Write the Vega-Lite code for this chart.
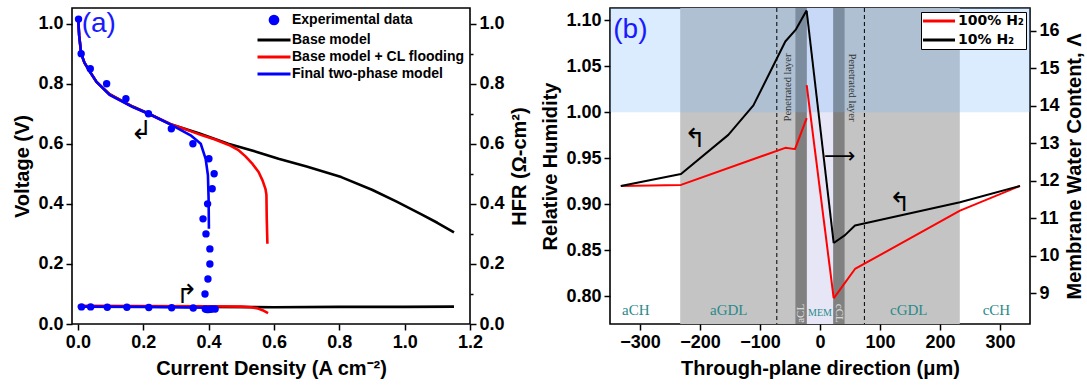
{
"$schema":"https://vega.github.io/schema/vega-lite/v6.json",
"padding":{"left":12,"top":6,"right":0,"bottom":0},
"background":"white",
"bounds":"flush",
"spacing":140,
"datasets":{
"vcurve":[
{"series":"Base model","j":0.001,"v":1.015},{"series":"Base model","j":0.004,"v":0.96},{"series":"Base model","j":0.01,"v":0.9},{"series":"Base model","j":0.02,"v":0.87},{"series":"Base model","j":0.031,"v":0.85},{"series":"Base model","j":0.057,"v":0.806},{"series":"Base model","j":0.097,"v":0.765},{"series":"Base model","j":0.168,"v":0.724},{"series":"Base model","j":0.216,"v":0.701},{"series":"Base model","j":0.286,"v":0.664},{"series":"Base model","j":0.37,"v":0.635},{"series":"Base model","j":0.46,"v":0.6},{"series":"Base model","j":0.55,"v":0.572},{"series":"Base model","j":0.614,"v":0.55},{"series":"Base model","j":0.7,"v":0.524},{"series":"Base model","j":0.806,"v":0.489},{"series":"Base model","j":0.9,"v":0.447},{"series":"Base model","j":0.974,"v":0.408},{"series":"Base model","j":1.05,"v":0.366},{"series":"Base model","j":1.1,"v":0.337},{"series":"Base model","j":1.151,"v":0.305},
{"series":"Base model + CL flooding","j":0.001,"v":1.015},{"series":"Base model + CL flooding","j":0.004,"v":0.96},{"series":"Base model + CL flooding","j":0.01,"v":0.9},{"series":"Base model + CL flooding","j":0.02,"v":0.87},{"series":"Base model + CL flooding","j":0.031,"v":0.85},{"series":"Base model + CL flooding","j":0.057,"v":0.806},{"series":"Base model + CL flooding","j":0.097,"v":0.764},{"series":"Base model + CL flooding","j":0.168,"v":0.723},{"series":"Base model + CL flooding","j":0.216,"v":0.7},{"series":"Base model + CL flooding","j":0.286,"v":0.664},{"series":"Base model + CL flooding","j":0.33,"v":0.648},{"series":"Base model + CL flooding","j":0.38,"v":0.628},{"series":"Base model + CL flooding","j":0.42,"v":0.614},{"series":"Base model + CL flooding","j":0.462,"v":0.596},{"series":"Base model + CL flooding","j":0.49,"v":0.58},{"series":"Base model + CL flooding","j":0.513,"v":0.558},{"series":"Base model + CL flooding","j":0.535,"v":0.532},{"series":"Base model + CL flooding","j":0.553,"v":0.506},{"series":"Base model + CL flooding","j":0.565,"v":0.478},{"series":"Base model + CL flooding","j":0.574,"v":0.45},{"series":"Base model + CL flooding","j":0.577,"v":0.43},{"series":"Base model + CL flooding","j":0.578,"v":0.35},{"series":"Base model + CL flooding","j":0.58,"v":0.267},
{"series":"Final two-phase model","j":0.001,"v":1.015},{"series":"Final two-phase model","j":0.004,"v":0.96},{"series":"Final two-phase model","j":0.01,"v":0.9},{"series":"Final two-phase model","j":0.02,"v":0.87},{"series":"Final two-phase model","j":0.031,"v":0.85},{"series":"Final two-phase model","j":0.057,"v":0.806},{"series":"Final two-phase model","j":0.097,"v":0.763},{"series":"Final two-phase model","j":0.168,"v":0.722},{"series":"Final two-phase model","j":0.216,"v":0.7},{"series":"Final two-phase model","j":0.286,"v":0.663},{"series":"Final two-phase model","j":0.345,"v":0.628},{"series":"Final two-phase model","j":0.376,"v":0.6},{"series":"Final two-phase model","j":0.391,"v":0.55},{"series":"Final two-phase model","j":0.398,"v":0.495},{"series":"Final two-phase model","j":0.4,"v":0.42},{"series":"Final two-phase model","j":0.401,"v":0.317}
],
"vexp":[
{"j":0.002,"v":1.015},{"j":0.01,"v":0.9},{"j":0.038,"v":0.85},{"j":0.088,"v":0.8},{"j":0.147,"v":0.75},{"j":0.216,"v":0.7},{"j":0.286,"v":0.65},{"j":0.352,"v":0.6},{"j":0.401,"v":0.55},{"j":0.417,"v":0.5},{"j":0.411,"v":0.45},{"j":0.397,"v":0.4},{"j":0.383,"v":0.35},{"j":0.392,"v":0.3},{"j":0.404,"v":0.25},{"j":0.404,"v":0.2},{"j":0.398,"v":0.15},{"j":0.389,"v":0.1}
],
"hcurve":[
{"series":"Base model","j":0.0,"hfr":0.058},{"series":"Base model","j":0.2,"hfr":0.058},{"series":"Base model","j":0.4,"hfr":0.057},{"series":"Base model","j":0.6,"hfr":0.056},{"series":"Base model","j":0.8,"hfr":0.057},{"series":"Base model","j":1.0,"hfr":0.057},{"series":"Base model","j":1.151,"hfr":0.058},
{"series":"Base model + CL flooding","j":0.0,"hfr":0.061},{"series":"Base model + CL flooding","j":0.2,"hfr":0.06},{"series":"Base model + CL flooding","j":0.4,"hfr":0.059},{"series":"Base model + CL flooding","j":0.5,"hfr":0.058},{"series":"Base model + CL flooding","j":0.53,"hfr":0.056},{"series":"Base model + CL flooding","j":0.55,"hfr":0.052},{"series":"Base model + CL flooding","j":0.565,"hfr":0.046},{"series":"Base model + CL flooding","j":0.582,"hfr":0.036},
{"series":"Final two-phase model","j":0.0,"hfr":0.058},{"series":"Final two-phase model","j":0.2,"hfr":0.057},{"series":"Final two-phase model","j":0.4,"hfr":0.054}
],
"hexp":[
{"j":0.011,"hfr":0.057},{"j":0.039,"hfr":0.057},{"j":0.09,"hfr":0.056},{"j":0.15,"hfr":0.056},{"j":0.217,"hfr":0.055},{"j":0.287,"hfr":0.054},{"j":0.353,"hfr":0.053},{"j":0.39,"hfr":0.05},{"j":0.395,"hfr":0.048},{"j":0.4,"hfr":0.048},{"j":0.405,"hfr":0.049},{"j":0.41,"hfr":0.05},{"j":0.42,"hfr":0.05}
],
"zones":[
{"zone":"GDL","x":-233,"x2":233},{"zone":"MEM","x":-22,"x2":22},{"zone":"CL","x":-41,"x2":-22},{"zone":"CL","x":22,"x2":41}
],
"wet":[{"x":-350,"x2":350,"y":1.0,"y2":1.1134}],
"dash":[{"x":-72},{"x":74}],
"blabels":[
{"kind":"region","t":"aCH","x":-307,"y":0.785},{"kind":"region","t":"aGDL","x":-152,"y":0.785},{"kind":"region","t":"cGDL","x":148,"y":0.785},{"kind":"region","t":"cCH","x":294,"y":0.785},
{"kind":"mem","t":"MEM","x":0,"y":0.7815},
{"kind":"acl","t":"aCL","x":-32,"y":0.7815},{"kind":"ccl","t":"cCL","x":32,"y":0.7815},
{"kind":"penl","t":"Penetrated layer","x":-54,"y":1.027},{"kind":"penr","t":"Penetrated layer","x":53,"y":1.027},
{"kind":"arrow","t":"↰","x":-208,"y":0.971},{"kind":"arrow","t":"↰","x":133,"y":0.901},{"kind":"arrowr","t":"⟶","x":33,"y":0.953}
],
"rh":[
{"h2":"100% H₂","part":"a","x":-332,"y":0.92},{"h2":"100% H₂","part":"a","x":-231.7,"y":0.9211},{"h2":"100% H₂","part":"a","x":-57.8,"y":0.9614},{"h2":"100% H₂","part":"a","x":-41.7,"y":0.96},{"h2":"100% H₂","part":"a","x":-22.2,"y":0.9937},
{"h2":"100% H₂","part":"c","x":22.8,"y":0.7978},{"h2":"100% H₂","part":"c","x":58.3,"y":0.8297},{"h2":"100% H₂","part":"c","x":233.3,"y":0.8932},{"h2":"100% H₂","part":"c","x":333.3,"y":0.92},
{"h2":"10% H₂","part":"a","x":-332,"y":0.92},{"h2":"10% H₂","part":"a","x":-231.7,"y":0.933},{"h2":"10% H₂","part":"a","x":-152.8,"y":0.9755},{"h2":"10% H₂","part":"a","x":-111,"y":1.0075},{"h2":"10% H₂","part":"a","x":-57.8,"y":1.077},{"h2":"10% H₂","part":"a","x":-40,"y":1.0902},{"h2":"10% H₂","part":"a","x":-22.2,"y":1.1109},
{"h2":"10% H₂","part":"c","x":22.8,"y":0.858},{"h2":"10% H₂","part":"c","x":41.7,"y":0.8665},{"h2":"10% H₂","part":"c","x":58.3,"y":0.8769},{"h2":"10% H₂","part":"c","x":233.3,"y":0.9023},{"h2":"10% H₂","part":"c","x":333.3,"y":0.92}
],
"lam":[
{"h2":"100% H₂","x":-22.2,"lam":14.55},{"h2":"100% H₂","x":22.8,"lam":8.87},
{"h2":"10% H₂","x":-22.2,"lam":16.53},{"h2":"10% H₂","x":22.8,"lam":10.34}
]
},
"hconcat":[
{
"width":398,"height":316,
"encoding":{"x":{"field":"j","type":"quantitative","scale":{"domain":[-0.018,1.2],"nice":false,"zero":false},"axis":{"values":[0,0.2,0.4,0.6,0.8,1,1.2],"format":".1f"},"title":"Current Density (A cm⁻²)"}},
"layer":[
 {"layer":[
  {"data":{"name":"vcurve"},"mark":{"type":"line","strokeWidth":2.6,"strokeJoin":"round"},
   "encoding":{
    "y":{"field":"v","type":"quantitative","scale":{"domain":[0,1.052],"nice":false,"zero":false},"axis":{"values":[0,0.2,0.4,0.6,0.8,1],"format":".1f","orient":"left"},"title":"Voltage (V)"},
    "color":{"field":"series","type":"nominal","scale":{"domain":["Experimental data","Base model","Base model + CL flooding","Final two-phase model"],"range":["#0000ff","#000000","#ff0000","#0000ff"]},
     "legend":{"title":null,"orient":"top-right","offset":5,"padding":0,"labelFont":"Liberation Sans","labelFontWeight":"bold","labelFontSize":14,"labelColor":"black","symbolType":"stroke","symbolSize":100,"symbolStrokeWidth":3,"rowPadding":3,"labelOffset":21,"labelLimit":400,
      "encode":{"symbols":{"update":{"shape":{"signal":"datum.value === 'Experimental data' ? 'circle' : 'M-3.3,0L3.3,0'"},"size":{"signal":"datum.value === 'Experimental data' ? 60 : 100"},"fill":{"signal":"datum.value === 'Experimental data' ? '#0000ff' : 'transparent'"},"x":{"value":17}}}}}}
   }},
  {"data":{"name":"vexp"},"mark":{"type":"circle","size":55,"color":"#0000ff","opacity":1},
   "encoding":{"y":{"field":"v","type":"quantitative","scale":{"domain":[0,1.052],"nice":false,"zero":false},"title":"Voltage (V)"}}},
  {"data":{"values":[{"j":0.1945,"v":0.644,"t":"↲"}]},"mark":{"type":"text","font":"DejaVu Sans","fontSize":26,"color":"black","align":"center","baseline":"middle"},
   "encoding":{"y":{"field":"v","type":"quantitative","scale":{"domain":[0,1.052],"nice":false,"zero":false},"title":"Voltage (V)"},"text":{"field":"t"}}},
  {"data":{"values":[{"j":0.064,"v":0.999,"t":"(a)"}]},"mark":{"type":"text","font":"Liberation Sans","fontSize":28,"color":"#1a1aff","align":"center","baseline":"middle"},
   "encoding":{"y":{"field":"v","type":"quantitative","scale":{"domain":[0,1.052],"nice":false,"zero":false},"title":"Voltage (V)"},"text":{"field":"t"}}}
 ]},
 {"layer":[
  {"data":{"name":"hcurve"},"mark":{"type":"line","strokeWidth":2.6,"strokeJoin":"round"},
   "encoding":{
    "y":{"field":"hfr","type":"quantitative","scale":{"domain":[0,1.052],"nice":false,"zero":false},"axis":{"values":[0,0.2,0.4,0.6,0.8,1],"format":".1f","orient":"right","titleAngle":270,"titleBaseline":"top"},"title":"HFR (Ω-cm²)"},
    "color":{"field":"series","type":"nominal"}
   }},
  {"data":{"name":"hexp"},"mark":{"type":"circle","size":55,"color":"#0000ff","opacity":1},
   "encoding":{"y":{"field":"hfr","type":"quantitative","scale":{"domain":[0,1.052],"nice":false,"zero":false},"title":"HFR (Ω-cm²)"}}},
  {"data":{"values":[{"j":0.333,"hfr":0.096,"t":"↱"}]},"mark":{"type":"text","font":"DejaVu Sans","fontSize":26,"color":"black","align":"center","baseline":"middle"},
   "encoding":{"y":{"field":"hfr","type":"quantitative","scale":{"domain":[0,1.052],"nice":false,"zero":false},"title":"HFR (Ω-cm²)"},"text":{"field":"t"}}}
 ]},
 {"data":{"values":[{"j":0,"hfr":0}]},"mark":{"type":"point","opacity":0},
  "encoding":{"y":{"field":"hfr","type":"quantitative","scale":{"domain":[0,1.052],"nice":false,"zero":false},"axis":{"values":[0.1,0.3,0.5,0.7,0.9],"orient":"right","labels":false,"tickSize":3,"title":null}}}}
],
"resolve":{"scale":{"y":"independent"}}
},
{
"width":420,"height":316,
"encoding":{"x":{"field":"x","type":"quantitative","scale":{"domain":[-350,350],"nice":false,"zero":false},"axis":{"values":[-300,-200,-100,0,100,200,300]},"title":"Through-plane direction (μm)"}},
"layer":[
 {"layer":[
  {"data":{"name":"zones"},"mark":{"type":"rect"},
   "encoding":{"x2":{"field":"x2"},"fill":{"field":"zone","type":"nominal","scale":{"domain":["GDL","MEM","CL"],"range":["#c4c4c4","#e6e6f6","#808080"]},"legend":null}}},
  {"data":{"name":"wet"},"mark":{"type":"rect","color":"#6cb4f8","opacity":0.25},
   "encoding":{"x2":{"field":"x2"},"y":{"field":"y","type":"quantitative","scale":{"domain":[0.7699,1.1134],"nice":false,"zero":false},"axis":{"values":[0.8,0.85,0.9,0.95,1,1.05,1.1],"format":".2f","orient":"left"},"title":"Relative Humidity"},"y2":{"field":"y2"}}},
  {"data":{"name":"dash"},"mark":{"type":"rule","color":"black","strokeWidth":1,"strokeDash":[4,3]},"encoding":{}},
  {"data":{"name":"blabels"},"transform":[{"filter":"datum.kind === 'region'"}],"mark":{"type":"text","font":"Liberation Serif","fontSize":15,"color":"#2a8a8a","align":"center","baseline":"middle"},
   "encoding":{"y":{"field":"y","type":"quantitative","scale":{"domain":[0.7699,1.1134],"nice":false,"zero":false},"title":"Relative Humidity"},"text":{"field":"t"}}},
  {"data":{"name":"blabels"},"transform":[{"filter":"datum.kind === 'mem'"}],"mark":{"type":"text","font":"Liberation Serif","fontSize":10,"color":"#2a8a8a","align":"center","baseline":"middle"},
   "encoding":{"y":{"field":"y","type":"quantitative","scale":{"domain":[0.7699,1.1134],"nice":false,"zero":false},"title":"Relative Humidity"},"text":{"field":"t"}}},
  {"data":{"name":"blabels"},"transform":[{"filter":"datum.kind === 'acl'"}],"mark":{"type":"text","font":"Liberation Serif","fontSize":11,"color":"#e4e4e4","align":"center","baseline":"middle","angle":270},
   "encoding":{"y":{"field":"y","type":"quantitative","scale":{"domain":[0.7699,1.1134],"nice":false,"zero":false},"title":"Relative Humidity"},"text":{"field":"t"}}},
  {"data":{"name":"blabels"},"transform":[{"filter":"datum.kind === 'ccl'"}],"mark":{"type":"text","font":"Liberation Serif","fontSize":11,"color":"#e4e4e4","align":"center","baseline":"middle","angle":90},
   "encoding":{"y":{"field":"y","type":"quantitative","scale":{"domain":[0.7699,1.1134],"nice":false,"zero":false},"title":"Relative Humidity"},"text":{"field":"t"}}},
  {"data":{"name":"blabels"},"transform":[{"filter":"datum.kind === 'penl'"}],"mark":{"type":"text","font":"Liberation Serif","fontSize":10.5,"color":"#333333","align":"center","baseline":"middle","angle":270},
   "encoding":{"y":{"field":"y","type":"quantitative","scale":{"domain":[0.7699,1.1134],"nice":false,"zero":false},"title":"Relative Humidity"},"text":{"field":"t"}}},
  {"data":{"name":"blabels"},"transform":[{"filter":"datum.kind === 'penr'"}],"mark":{"type":"text","font":"Liberation Serif","fontSize":10.5,"color":"#333333","align":"center","baseline":"middle","angle":90},
   "encoding":{"y":{"field":"y","type":"quantitative","scale":{"domain":[0.7699,1.1134],"nice":false,"zero":false},"title":"Relative Humidity"},"text":{"field":"t"}}},
  {"data":{"name":"blabels"},"transform":[{"filter":"datum.kind === 'arrow'"}],"mark":{"type":"text","font":"DejaVu Sans","fontSize":26,"color":"black","align":"center","baseline":"middle"},
   "encoding":{"y":{"field":"y","type":"quantitative","scale":{"domain":[0.7699,1.1134],"nice":false,"zero":false},"title":"Relative Humidity"},"text":{"field":"t"}}},
  {"data":{"name":"blabels"},"transform":[{"filter":"datum.kind === 'arrowr'"}],"mark":{"type":"text","font":"DejaVu Sans","fontSize":22,"color":"black","align":"center","baseline":"middle"},
   "encoding":{"y":{"field":"y","type":"quantitative","scale":{"domain":[0.7699,1.1134],"nice":false,"zero":false},"title":"Relative Humidity"},"text":{"field":"t"}}},
  {"data":{"values":[{"x":-316,"y":1.09,"t":"(b)"}]},"mark":{"type":"text","font":"Liberation Sans","fontSize":28,"color":"#1a1aff","align":"center","baseline":"middle"},
   "encoding":{"y":{"field":"y","type":"quantitative","scale":{"domain":[0.7699,1.1134],"nice":false,"zero":false},"title":"Relative Humidity"},"text":{"field":"t"}}},
  {"data":{"name":"rh"},"mark":{"type":"line","strokeWidth":2,"strokeJoin":"round"},
   "encoding":{"y":{"field":"y","type":"quantitative","scale":{"domain":[0.7699,1.1134],"nice":false,"zero":false},"title":"Relative Humidity"},"detail":{"field":"part"},
    "color":{"field":"h2","type":"nominal","scale":{"domain":["100% H₂","10% H₂"],"range":["#ff0000","#000000"]},
     "legend":{"title":null,"orient":"top-right","offset":4,"padding":2,"strokeColor":"black","fillColor":"white","labelFont":"DejaVu Sans","labelFontWeight":"bold","labelFontSize":14,"labelColor":"black","symbolType":"stroke","symbolSize":100,"symbolStrokeWidth":3,"rowPadding":5,"labelOffset":21,
      "encode":{"symbols":{"update":{"shape":{"value":"M-3.2,0L3.2,0"},"x":{"value":16}}}}}}
   }}
 ]},
 {"data":{"name":"lam"},"mark":{"type":"line","strokeWidth":2,"strokeJoin":"round"},
  "encoding":{"y":{"field":"lam","type":"quantitative","scale":{"domain":[8.18,16.61],"nice":false,"zero":false},"axis":{"values":[9,10,11,12,13,14,15,16],"orient":"right","titleAngle":270,"titleBaseline":"top"},"title":"Membrane Water Content, Λ"},
   "color":{"field":"h2","type":"nominal"}}}
],
"resolve":{"scale":{"y":"independent"}}
}
],
"resolve":{"scale":{"color":"independent"}},
"config":{
 "font":"Liberation Sans",
 "view":{"stroke":"black","strokeWidth":1.6},
 "axis":{"domain":false,"grid":false,"ticks":true,"tickColor":"black","tickWidth":1.5,"tickSize":6,"labelFont":"Liberation Sans","labelFontSize":18,"labelFontWeight":"bold","labelColor":"black","labelPadding":3,"labelFlush":false,"labelOverlap":false,"titleFont":"Liberation Sans","titleFontSize":20,"titleFontWeight":"bold","titleColor":"black","titlePadding":7},
 "axisY":{"titlePadding":5}
}
}
